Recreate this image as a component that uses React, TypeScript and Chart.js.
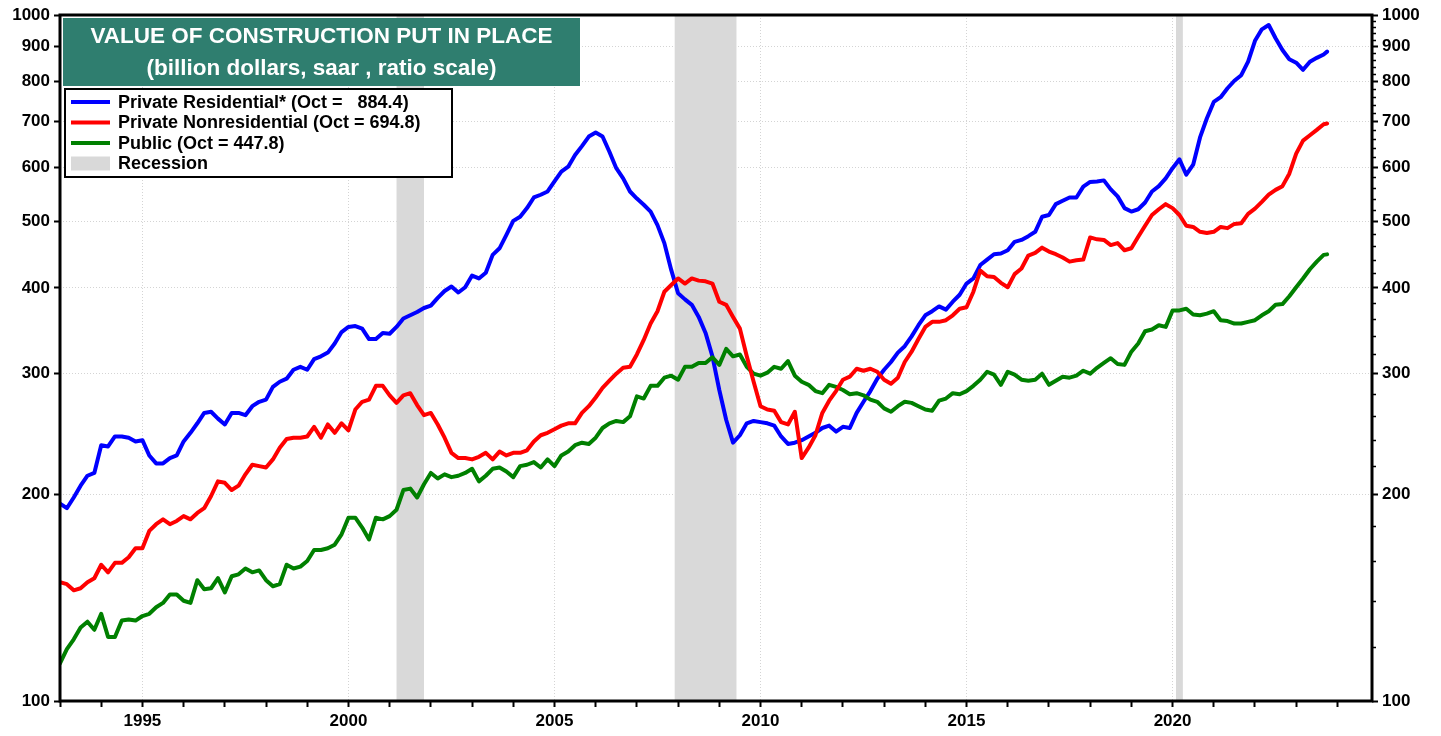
import React, { useEffect, useRef } from "react";
import { Chart, registerables } from "chart.js";

Chart.register(...registerables);

// ---------- data ----------
const START_YEAR = 1993;
const X_MAX = 2024.84;
// month offsets from Jan 1993 (every second month, plus the last month Oct 2023)
const monthOffsets: number[] = Array.from({ length: 185 }, (_, i) => i * 2).concat([369]);
const periods: number[] = monthOffsets.map((m) => START_YEAR + m / 12);

const privateResidential: number[] = [
  194, 191, 198, 206, 213, 215, 236, 235, 243, 243, 242, 239, 240, 228, 222, 222, 226, 228, 239, 246,
  254, 263, 264, 258, 253, 263, 263, 261, 269, 273, 275, 287, 292, 295, 304, 307, 304, 315, 318, 322,
  332, 345, 351, 352, 349, 337, 337, 344, 343, 351, 361, 365, 369, 374, 377, 387, 396, 402, 394, 401,
  417, 413, 421, 447, 457, 478, 501, 508, 523, 542, 547, 553, 572, 591, 601, 625, 644, 665, 674, 665,
  632, 598, 578, 553, 540, 529, 517, 494, 465, 425, 393, 385, 378, 363, 344, 318, 284, 257, 238, 244,
  254, 256, 255, 254, 252, 243, 237, 238, 240, 243, 246, 250, 252, 247, 251, 250, 263, 273, 283, 295,
  304, 312, 322, 329, 340, 353, 365, 370, 376, 372, 382, 391, 406, 413, 432, 440, 448, 449, 454, 467,
  470, 476, 483, 508, 511, 530, 536, 542, 542, 562, 571, 572, 574, 557, 544, 523, 517, 521, 533, 553,
  563, 578, 598, 616, 585, 605, 663, 707, 747, 759, 782, 802, 817, 855, 917, 953, 967, 925, 889, 862,
  852, 832, 855, 866, 876, 884.4,
];

const privateNonresidential: number[] = [
  149, 148, 145, 146, 149, 151, 158, 154, 159, 159, 162, 167, 167, 177, 181, 184, 181, 183, 186, 184,
  188, 191, 199, 209, 208, 203, 206, 214, 221, 220, 219, 225, 234, 241, 242, 242, 243, 251, 242, 253,
  246, 254, 248, 266, 273, 275, 288, 288, 279, 272, 279, 281, 270, 261, 263, 253, 242, 230, 226, 226,
  225, 227, 230, 225, 231, 228, 230, 230, 232, 239, 244, 246, 249, 252, 254, 254, 263, 269, 277, 286,
  293, 300, 306, 307, 320, 336, 355, 370, 395, 404, 413, 406, 413, 410, 409, 406, 382, 378, 363, 349,
  318, 292, 269, 266, 265, 255, 253, 264, 226, 234, 244, 263, 274, 283, 294, 297, 305, 303, 305, 302,
  294, 290, 296, 312, 323, 337, 351, 357, 357, 359, 365, 373, 375, 395, 424, 416, 415, 407, 401, 419,
  427, 446, 450, 458, 452, 448, 443, 437, 439, 440, 474, 471, 470, 462, 465, 454, 457, 475, 493, 511,
  521, 530, 523, 511, 493, 491, 483, 481, 483, 491, 489, 496, 497, 513, 522, 534, 547, 556, 563, 587,
  628, 656, 668, 680, 693, 694.8,
];

const publicConstruction: number[] = [
  113.5, 119, 123, 128, 130.5, 127, 134, 124, 124, 131, 131.5, 131, 133, 134, 137, 139, 143, 143, 140, 139,
  150, 145.5, 146, 151, 144, 152, 153, 156, 154, 155, 150, 147, 148, 158, 156, 157, 160, 166, 166, 167,
  169, 175, 185, 185, 179, 172, 185, 184, 186, 190, 203, 204, 198, 207, 215, 211, 214, 212, 213, 215,
  218, 209, 213, 218, 219, 216, 212, 220, 221, 223, 219, 225, 220, 228, 231, 236, 238, 237, 242, 250,
  254, 256, 255, 260, 278, 276, 288, 288, 296, 298, 294, 307, 307, 311, 311, 317, 309, 326, 318, 320,
  307, 300, 298, 301, 307, 305, 313, 298, 292, 289, 283, 281, 289, 287, 284, 280, 281, 279, 275, 273,
  267, 264, 269, 273, 272, 269, 266, 265, 274, 276, 281, 280, 283, 288, 294, 302, 299, 289, 302, 299,
  294, 293, 294, 300, 289, 293, 297, 296, 298, 303, 300, 306, 311, 316, 310, 309, 323, 332, 346, 348,
  353, 351, 371, 371, 373, 366, 365, 367, 370, 359, 358, 355, 355, 357, 359, 365, 370, 378, 379, 389,
  401, 413, 426, 437, 447, 447.8,
];

// recession periods (decimal years)
const recessionStarts: number[] = [2001.167, 2007.917, 2020.083];
const recessionEnds: number[] = [2001.833, 2009.417, 2020.25];

const yTickValues: number[] = [100, 200, 300, 400, 500, 600, 700, 800, 900, 1000];
const yMinorTickValues: number[] = [
  120, 140, 160, 180, 220, 240, 260, 280, 320, 340, 360, 380, 420, 440, 460, 480,
  520, 540, 560, 580, 620, 640, 660, 680, 720, 740, 760, 780, 820, 840, 860, 880,
  920, 940, 960, 980,
];
const xTickYears: number[] = Array.from({ length: 32 }, (_, i) => 1993 + i);

const titleLines: string[] = [
  "VALUE OF CONSTRUCTION PUT IN PLACE",
  "(billion dollars, saar , ratio scale)",
];
const legendLabels: string[] = [
  "Private Residential* (Oct =   884.4)",
  "Private Nonresidential (Oct = 694.8)",
  "Public (Oct = 447.8)",
  "Recession",
];

const BLUE = "#0000ff";
const RED = "#ff0000";
const GREEN = "#008000";
const RECESSION_GRAY = "#d9d9d9";
const TEAL = "#2f7e6f";
const FONT = "'Liberation Sans', Arial, sans-serif";

const toPoints = (vals: number[]) => vals.map((v, i) => ({ x: periods[i], y: v }));

const decorPlugin = {
  id: "decor",
  beforeDatasetsDraw(chart: any) {
    const { ctx, chartArea: a, scales } = chart;
    const x = scales.x;
    ctx.save();
    ctx.fillStyle = RECESSION_GRAY;
    for (let i = 0; i < recessionStarts.length; i++) {
      const x1 = x.getPixelForValue(recessionStarts[i]);
      const x2 = x.getPixelForValue(recessionEnds[i]);
      ctx.fillRect(x1, a.top, x2 - x1, a.bottom - a.top);
    }
    ctx.restore();
  },
  afterDatasetsDraw(chart: any) {
    const { ctx, chartArea: a, scales } = chart;
    ctx.save();
    // frame
    ctx.strokeStyle = "#000";
    ctx.lineWidth = 3;
    ctx.strokeRect(a.left, a.top, a.right - a.left, a.bottom - a.top);

    // right axis minor ticks
    ctx.lineWidth = 1.5;
    ctx.beginPath();
    for (const v of yMinorTickValues) {
      const py = Math.round(scales.y2.getPixelForValue(v)) + 0.5;
      ctx.moveTo(a.right, py);
      ctx.lineTo(a.right + 4, py);
    }
    ctx.stroke();

    // title box
    const tx = a.left + 3;
    const ty = a.top + 3;
    const tw = 517;
    const th = 68;
    ctx.fillStyle = TEAL;
    ctx.fillRect(tx, ty, tw, th);
    ctx.fillStyle = "#ffffff";
    ctx.font = `bold 22.5px ${FONT}`;
    ctx.textAlign = "center";
    ctx.textBaseline = "middle";
    ctx.fillText(titleLines[0], tx + tw / 2, ty + 19);
    ctx.fillText(titleLines[1], tx + tw / 2, ty + 51);

    // legend box
    const lx = a.left + 5;
    const ly = a.top + 74;
    const lw = 387;
    const lh = 88;
    ctx.fillStyle = "#ffffff";
    ctx.fillRect(lx, ly, lw, lh);
    ctx.strokeStyle = "#000";
    ctx.lineWidth = 2;
    ctx.strokeRect(lx, ly, lw, lh);
    const colors = [BLUE, RED, GREEN];
    const rowY = [ly + 13, ly + 33.5, ly + 54, ly + 74.5];
    for (let i = 0; i < 3; i++) {
      ctx.strokeStyle = colors[i];
      ctx.lineWidth = 4;
      ctx.beginPath();
      ctx.moveTo(lx + 6, rowY[i]);
      ctx.lineTo(lx + 45, rowY[i]);
      ctx.stroke();
    }
    ctx.fillStyle = RECESSION_GRAY;
    ctx.fillRect(lx + 6, rowY[3] - 7, 39, 14);
    ctx.fillStyle = "#000";
    ctx.font = `bold 18px ${FONT}`;
    ctx.textAlign = "left";
    ctx.textBaseline = "middle";
    for (let i = 0; i < legendLabels.length; i++) {
      ctx.fillText(legendLabels[i], lx + 53, rowY[i] + 1);
    }
    ctx.restore();
  },
};

export default function App() {
  const canvasRef = useRef<HTMLCanvasElement | null>(null);

  useEffect(() => {
    const canvas = canvasRef.current;
    if (!canvas) return;
    const tickFont = { family: FONT, size: 17, weight: "bold" as const };
    const gridDotColor = "#d4d4d4";

    const chart = new Chart(canvas, {
      type: "line",
      data: {
        datasets: [
          {
            label: "Private Residential",
            data: toPoints(privateResidential),
            borderColor: BLUE,
            borderWidth: 4,
            pointRadius: 0,
            borderJoinStyle: "round",
            borderCapStyle: "round",
            yAxisID: "y",
            order: 2,
          },
          {
            label: "Private Nonresidential",
            data: toPoints(privateNonresidential),
            borderColor: RED,
            borderWidth: 4,
            pointRadius: 0,
            borderJoinStyle: "round",
            borderCapStyle: "round",
            yAxisID: "y",
            order: 0,
          },
          {
            label: "Public",
            data: toPoints(publicConstruction),
            borderColor: GREEN,
            borderWidth: 4,
            pointRadius: 0,
            borderJoinStyle: "round",
            borderCapStyle: "round",
            yAxisID: "y",
            order: 1,
          },
        ],
      },
      options: {
        responsive: false,
        animation: false,
        devicePixelRatio: 1,
        parsing: false,
        normalized: true,
        layout: { padding: { top: 15, left: 0, right: 0, bottom: 0 } },
        plugins: {
          legend: { display: false },
          tooltip: { enabled: false },
          title: { display: false },
        },
        scales: {
          x: {
            type: "linear",
            min: START_YEAR,
            max: X_MAX,
            afterBuildTicks: (scale: any) => {
              scale.ticks = xTickYears.map((v) => ({ value: v }));
            },
            afterFit: (scale: any) => {
              scale.height = 35;
            },
            ticks: {
              autoSkip: false,
              maxRotation: 0,
              minRotation: 0,
              padding: 4,
              color: "#000",
              font: tickFont,
              callback: (v: any) => (Number(v) % 5 === 0 ? String(v) : ""),
            },
            grid: {
              drawOnChartArea: true,
              drawTicks: true,
              tickLength: 6,
              tickWidth: 2,
              tickColor: "#000",
              lineWidth: 1,
              color: (ctx: any) =>
                ctx.tick && ctx.tick.value % 5 === 0 ? gridDotColor : "rgba(0,0,0,0)",
            },
            border: { display: false, dash: [1, 2] },
          },
          y: {
            type: "logarithmic",
            position: "left",
            min: 100,
            max: 1000,
            afterBuildTicks: (scale: any) => {
              scale.ticks = yTickValues.map((v) => ({ value: v }));
            },
            afterFit: (scale: any) => {
              scale.width = 60;
            },
            ticks: {
              autoSkip: false,
              padding: 4,
              color: "#000",
              font: tickFont,
              callback: (v: any) => String(v),
            },
            grid: {
              drawOnChartArea: true,
              drawTicks: true,
              tickLength: 6,
              tickWidth: 2,
              tickColor: "#000",
              lineWidth: 1,
              color: gridDotColor,
            },
            border: { display: false, dash: [1, 2] },
          },
          y2: {
            type: "logarithmic",
            position: "right",
            min: 100,
            max: 1000,
            afterBuildTicks: (scale: any) => {
              scale.ticks = yTickValues.map((v) => ({ value: v }));
            },
            afterFit: (scale: any) => {
              scale.width = 69;
            },
            ticks: {
              autoSkip: false,
              padding: 4,
              color: "#000",
              font: tickFont,
              callback: (v: any) => String(v),
            },
            grid: {
              drawOnChartArea: false,
              drawTicks: true,
              tickLength: 6,
              tickWidth: 2,
              tickColor: "#000",
            },
            border: { display: false },
          },
        },
      },
      plugins: [decorPlugin],
    } as any);

    return () => {
      chart.destroy();
    };
  }, []);

  return (
    <div style={{ position: "fixed", left: 0, top: 0, width: 1441, height: 736, background: "#fff" }}>
      <canvas ref={canvasRef} width={1441} height={736} style={{ display: "block" }} />
    </div>
  );
}
